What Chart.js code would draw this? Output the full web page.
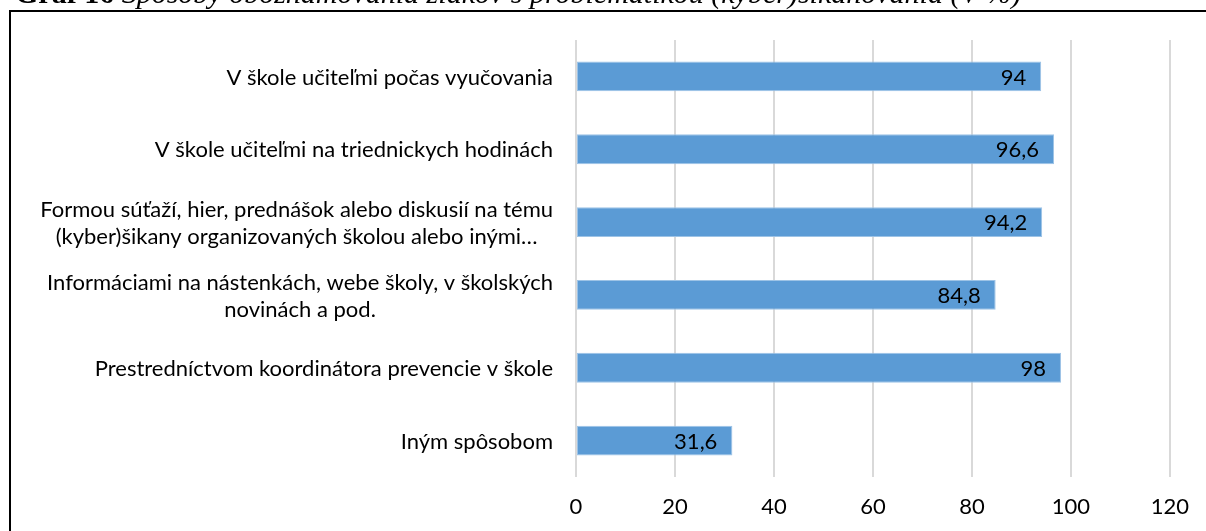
<!DOCTYPE html>
<html>
<head>
<meta charset="utf-8">
<script src="https://cdn.jsdelivr.net/npm/chart.js@4/dist/chart.umd.min.js"></script>
<style>
  html, body { margin: 0; padding: 0; background: #fff; }
  #wrap { position: relative; width: 1206px; height: 531px; }
</style>
</head>
<body>
<div id="wrap"><canvas id="chart" width="1206" height="531"></canvas></div>
<script>
var categories = [
    ['V škole učiteľmi počas vyučovania'],
    ['V škole učiteľmi na triednickych hodinách'],
    ['Formou súťaží, hier, prednášok alebo diskusií na tému', '(kyber)šikany organizovaných školou alebo inými…'],
    ['Informáciami na nástenkách, webe školy, v školských', 'novinách a pod.'],
    ['Prestredníctvom koordinátora prevencie v škole'],
    ['Iným spôsobom']
];
var values = [94, 96.6, 94.2, 84.8, 98, 31.6];
var xTicks = [0, 20, 40, 60, 80, 100, 120];
var titleBold = 'Graf 16 ';
var titleItalic = 'Spôsoby oboznamovania žiakov s problematikou (kyber)šikanovania (V %)';

var fontFamily = 'Lato, "Open Sans", sans-serif';
var fontSize = 22;

var formatNum = function (v) {
    return String(v).replace('.', ',');
};

// title (cut off at the top) and frame line
var framePlugin = {
    id: 'frame',
    beforeDraw: function (chart) {
        var ctx = chart.ctx;
        ctx.save();
        ctx.fillStyle = '#fff';
        ctx.fillRect(0, 0, chart.width, chart.height);
        ctx.fillStyle = '#000';
        ctx.textBaseline = 'alphabetic';
        ctx.textAlign = 'left';
        ctx.font = 'bold 30px "Liberation Serif", serif';
        ctx.fillText(titleBold, 15, 3);
        var w = ctx.measureText(titleBold).width;
        ctx.font = 'italic 30px "Liberation Serif", serif';
        ctx.fillText(titleItalic, 15 + w, 3);
        ctx.strokeStyle = '#000';
        ctx.lineWidth = 2;
        ctx.beginPath();
        ctx.moveTo(10, chart.height);
        ctx.lineTo(10, 11);
        ctx.lineTo(chart.width, 11);
        ctx.stroke();
        ctx.restore();
    }
};

// category labels (right block, lines centred) and value labels
var labelsPlugin = {
    id: 'labels',
    afterDraw: function (chart) {
        var ctx = chart.ctx;
        var yScale = chart.scales.y;
        ctx.save();
        ctx.fillStyle = '#000';
        ctx.font = fontSize + 'px ' + fontFamily;
        ctx.textBaseline = 'middle';
        ctx.textAlign = 'center';
        var right = chart.chartArea.left - 23;
        var lineH = 27;
        categories.forEach(function (lines, i) {
            var maxW = 0;
            lines.forEach(function (l) { maxW = Math.max(maxW, ctx.measureText(l).width); });
            var cx = right - maxW / 2;
            var cy = yScale.getPixelForValue(i) + 1 - (lines.length - 1) * lineH / 2;
            lines.forEach(function (l, j) {
                ctx.fillText(l, cx, cy + j * lineH);
            });
        });
        ctx.textAlign = 'right';
        var meta = chart.getDatasetMeta(0);
        meta.data.forEach(function (bar, i) {
            ctx.fillText(formatNum(values[i]), bar.x - 15, bar.y + 1);
        });
        ctx.restore();
    }
};

var ctx = document.getElementById('chart').getContext('2d');
var myChart = new Chart(ctx, {
    type: 'bar',
    data: {
        labels: categories,
        datasets: [{
            data: values,
            backgroundColor: '#5B9BD5',
            borderColor: '#9DC3E6',
            borderWidth: 1,
            borderSkipped: false,
            categoryPercentage: 1,
            barPercentage: 0.41
        }]
    },
    options: {
        indexAxis: 'y',
        responsive: false,
        animation: false,
        layout: {
            padding: { left: 576, right: 35, top: 40, bottom: 0 }
        },
        plugins: {
            legend: { display: false },
            tooltip: { enabled: false }
        },
        scales: {
            x: {
                min: 0,
                max: 120,
                afterBuildTicks: function (scale) {
                    scale.ticks = xTicks.map(function (v) { return { value: v }; });
                },
                afterFit: function (scale) { scale.height = 54; },
                grid: { color: '#d9d9d9', lineWidth: 2, drawTicks: false },
                border: { display: false },
                ticks: {
                    color: '#000',
                    padding: 17,
                    font: { family: fontFamily, size: fontSize }
                }
            },
            y: {
                display: false
            }
        }
    },
    plugins: [framePlugin, labelsPlugin]
});
</script>
</body>
</html>
